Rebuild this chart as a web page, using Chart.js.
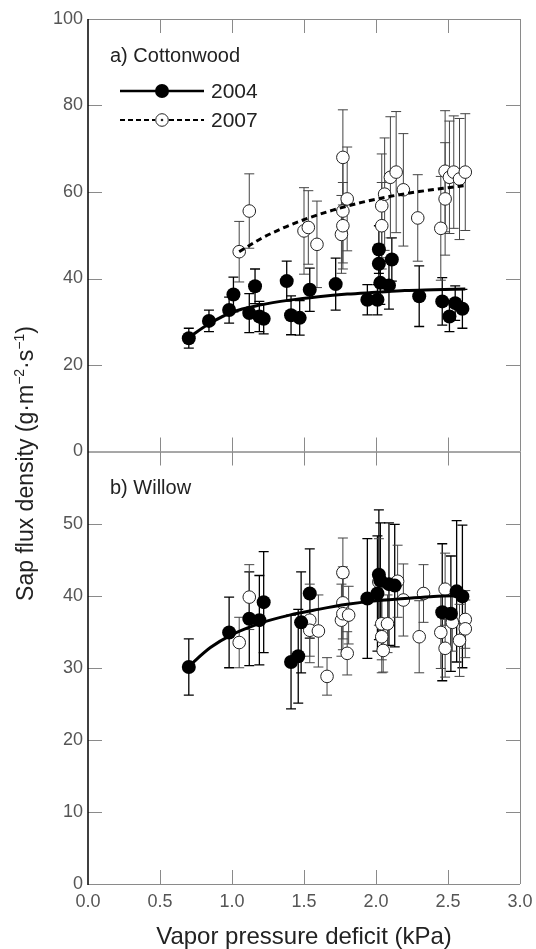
<!DOCTYPE html>
<html>
<head>
<meta charset="utf-8">
<style>
  html, body { margin: 0; padding: 0; background: #fff; }
  canvas { display: block; }
</style>
<script src="https://cdn.jsdelivr.net/npm/chart.js@4.4.1/dist/chart.umd.min.js"></script>
</head>
<body>
<canvas id="sapChart" width="536" height="949"></canvas>
<script>
// a) Cottonwood, 2004 (filled)
const cot04Vpd  = [0.70, 0.84, 0.98, 1.01, 1.12, 1.16, 1.19, 1.22, 1.38, 1.41, 1.47, 1.54, 1.72, 1.94, 2.01, 2.02, 2.02, 2.03, 2.09, 2.11, 2.30, 2.46, 2.51, 2.55, 2.60];
const cot04Flux = [26.2, 30.2, 32.7, 36.3, 32.0, 38.2, 31.2, 30.7, 39.4, 31.5, 30.9, 37.4, 38.7, 35.1, 35.1, 46.7, 43.4, 39.0, 38.4, 44.4, 35.9, 34.7, 31.2, 34.3, 33.0];
const cot04Err  = [2.3, 2.5, 3.0, 4.0, 4.5, 4.0, 3.5, 3.5, 4.6, 4.5, 4.0, 5.0, 6.0, 3.5, 3.5, 5.5, 4.5, 5.0, 5.5, 5.0, 7.0, 5.5, 3.5, 4.0, 4.5];

// a) Cottonwood, 2007 (open)
const cot07Vpd  = [1.05, 1.12, 1.50, 1.53, 1.59, 1.76, 1.77, 1.77, 1.77, 1.80, 2.04, 2.04, 2.06, 2.10, 2.14, 2.19, 2.29, 2.45, 2.48, 2.48, 2.51, 2.54, 2.58, 2.62];
const cot07Flux = [46.2, 55.6, 51.0, 51.8, 47.9, 50.2, 52.2, 55.6, 68.0, 58.4, 52.2, 56.8, 59.5, 63.4, 64.6, 60.5, 54.0, 51.6, 58.4, 64.8, 63.4, 64.6, 63.0, 64.6];
const cot07Err  = [7.0, 8.6, 10, 8.5, 10, 9, 10, 12, 11, 12, 10, 12, 13, 14, 14, 13, 10, 12, 13, 14, 13, 13, 14, 13.5];

// b) Willow, 2004 (filled)
const wil04Vpd  = [0.70, 0.98, 1.12, 1.19, 1.22, 1.41, 1.46, 1.48, 1.54, 1.94, 2.01, 2.02, 2.03, 2.09, 2.13, 2.46, 2.52, 2.56, 2.60];
const wil04Flux = [30.1, 34.9, 36.8, 36.6, 39.1, 30.8, 31.6, 36.3, 40.3, 39.6, 40.3, 42.9, 42.1, 41.6, 41.4, 37.7, 37.5, 40.6, 39.9];
const wil04Err  = [3.9, 4.9, 6.5, 6.2, 7.0, 6.5, 6.5, 7.0, 6.2, 8.3, 8.0, 9.0, 8.0, 8.5, 8.5, 9.5, 8.0, 9.8, 9.9];

// b) Willow, 2007 (open)
const wil07Vpd  = [1.05, 1.12, 1.54, 1.54, 1.60, 1.66, 1.76, 1.77, 1.77, 1.77, 1.80, 1.81, 2.02, 2.04, 2.04, 2.05, 2.08, 2.15, 2.19, 2.30, 2.33, 2.45, 2.48, 2.48, 2.53, 2.58, 2.62, 2.62];
const wil07Flux = [33.5, 39.8, 36.6, 35.2, 35.1, 28.8, 36.6, 43.2, 39.0, 37.5, 32.0, 37.3, 41.9, 36.1, 34.3, 32.4, 36.1, 42.0, 39.4, 34.3, 40.3, 34.9, 40.9, 32.7, 36.3, 33.8, 36.7, 35.4];
const wil07Err  = [3.5, 4.5, 5, 4.5, 5, 2.6, 5, 4.8, 5, 5, 3, 4, 6, 5, 5, 3, 4, 5, 5, 5, 4, 5, 5, 4, 4, 5, 4, 4];

// fitted curves
const cot04FitVpd  = [0.70, 0.85, 1.0, 1.2, 1.4, 1.6, 1.8, 2.0, 2.2, 2.4, 2.62];
const cot04FitFlux = [26.4, 29.7, 32.2, 33.9, 35.0, 35.8, 36.4, 36.8, 37.2, 37.4, 37.6];
const cot07FitVpd  = [1.05, 1.2, 1.35, 1.5, 1.7, 1.9, 2.1, 2.3, 2.5, 2.62];
const cot07FitFlux = [46.2, 49.2, 51.6, 53.6, 55.8, 57.6, 59.0, 60.1, 61.0, 61.5];
const wil04FitVpd  = [0.70, 0.85, 1.0, 1.2, 1.4, 1.6, 1.8, 2.0, 2.2, 2.4, 2.62];
const wil04FitFlux = [30.2, 32.8, 34.6, 36.2, 37.3, 38.1, 38.8, 39.3, 39.6, 39.9, 40.0];

const xTickStep = 0.5;
const topTickStep = 20;
const botTickStep = 10;
const legendYears = ['2004', '2007'];
const panelLabels = ['a) Cottonwood', 'b) Willow'];
const yTitleParts = [['Sap flux density (g\u00b7m', false], ['\u22122', true], ['\u00b7s', false], ['\u22121', true], [')', false]];

const FONT = "'Liberation Sans', Arial, Helvetica, sans-serif";
Chart.defaults.font.family = FONT;

const pts = (xs, ys) => xs.map((x, i) => ({ x: x, y: ys[i] }));

const fitLine = (xs, ys, axis, dash) => ({
  data: pts(xs, ys), yAxisID: axis, showLine: true, pointRadius: 0,
  borderColor: '#000', borderWidth: 3, borderDash: dash, cubicInterpolationMode: 'monotone'
});
const filled = (xs, ys, errs, axis) => ({
  data: pts(xs, ys), yAxisID: axis, errors: errs, errColor: '#000', errWidth: 1.3,
  pointRadius: 7, pointBackgroundColor: '#000', pointBorderColor: '#000', pointBorderWidth: 0
});
const open = (xs, ys, errs, axis) => ({
  data: pts(xs, ys), yAxisID: axis, errors: errs, errColor: '#444', errWidth: 1,
  pointRadius: 6.3, pointBackgroundColor: '#fff', pointBorderColor: '#222', pointBorderWidth: 1
});

// error bars under the markers, frame / ticks / labels on top
const figurePlugin = {
  id: 'figure',
  beforeDatasetsDraw(chart) {
    const ctx = chart.ctx;
    ctx.save();
    chart.data.datasets.forEach((ds, i) => {
      if (!ds.errors) return;
      const ys = chart.scales[ds.yAxisID];
      ctx.strokeStyle = ds.errColor;
      ctx.lineWidth = ds.errWidth;
      chart.getDatasetMeta(i).data.forEach((pt, j) => {
        const v = ds.data[j].y, e = ds.errors[j];
        const t = ys.getPixelForValue(v + e), b = ys.getPixelForValue(v - e);
        ctx.beginPath();
        ctx.moveTo(pt.x, t); ctx.lineTo(pt.x, b);
        ctx.moveTo(pt.x - 5, t); ctx.lineTo(pt.x + 5, t);
        ctx.moveTo(pt.x - 5, b); ctx.lineTo(pt.x + 5, b);
        ctx.stroke();
      });
    });
    ctx.restore();
  },
  afterDraw(chart) {
    const ctx = chart.ctx;
    const area = chart.chartArea;
    const xs = chart.scales.x;
    const panels = [chart.scales.yTop, chart.scales.yBot];
    const tl = 14;
    ctx.save();

    // frame
    ctx.lineWidth = 1;
    ctx.strokeStyle = '#8a8a8a';
    panels.forEach(p => {
      ctx.beginPath();
      ctx.moveTo(area.left, p.top + 0.5); ctx.lineTo(area.right, p.top + 0.5);
      ctx.moveTo(area.left, p.bottom + 0.5); ctx.lineTo(area.right, p.bottom + 0.5);
      ctx.moveTo(area.right + 0.5, p.top); ctx.lineTo(area.right + 0.5, p.bottom);
      ctx.stroke();
      // x ticks, inward
      xs.ticks.forEach(t => {
        if (t.value <= xs.min || t.value >= xs.max) return;
        const px = Math.round(xs.getPixelForValue(t.value)) + 0.5;
        ctx.beginPath();
        ctx.moveTo(px, p.top); ctx.lineTo(px, p.top + tl);
        ctx.moveTo(px, p.bottom); ctx.lineTo(px, p.bottom - tl);
        ctx.stroke();
      });
      // y ticks, inward on both sides
      p.ticks.forEach(t => {
        if (t.value <= p.min || t.value >= p.max) return;
        const py = Math.round(p.getPixelForValue(t.value)) + 0.5;
        ctx.beginPath();
        ctx.moveTo(area.left, py); ctx.lineTo(area.left + tl, py);
        ctx.moveTo(area.right, py); ctx.lineTo(area.right - tl, py);
        ctx.stroke();
      });
    });
    ctx.strokeStyle = '#000';
    ctx.lineWidth = 1.5;
    ctx.beginPath();
    ctx.moveTo(area.left, area.top); ctx.lineTo(area.left, area.bottom + 1);
    ctx.stroke();

    // panel labels
    ctx.fillStyle = '#222';
    ctx.font = '20px ' + FONT;
    ctx.textBaseline = 'middle';
    ctx.textAlign = 'left';
    ctx.fillText(panelLabels[0], area.left + 22, panels[0].top + 37);
    ctx.fillText(panelLabels[1], area.left + 22, panels[1].top + 37);

    // legend
    const lx0 = area.left + 32, lx1 = area.left + 116, lm = (lx0 + lx1) / 2;
    const ly = [panels[0].top + 72, panels[0].top + 101];
    ctx.strokeStyle = '#000';
    ctx.lineWidth = 2.5;
    ctx.setLineDash([]);
    ctx.beginPath(); ctx.moveTo(lx0, ly[0]); ctx.lineTo(lx1, ly[0]); ctx.stroke();
    ctx.fillStyle = '#000';
    ctx.beginPath(); ctx.arc(lm, ly[0], 7, 0, Math.PI * 2); ctx.fill();
    ctx.lineWidth = 2;
    ctx.setLineDash([5, 3]);
    ctx.beginPath(); ctx.moveTo(lx0, ly[1]); ctx.lineTo(lm - 7, ly[1]);
    ctx.moveTo(lm + 7, ly[1]); ctx.lineTo(lx1, ly[1]); ctx.stroke();
    ctx.setLineDash([]);
    ctx.lineWidth = 1;
    ctx.strokeStyle = '#222';
    ctx.beginPath(); ctx.arc(lm, ly[1], 6.3, 0, Math.PI * 2); ctx.stroke();
    ctx.fillStyle = '#222';
    ctx.beginPath(); ctx.arc(lm, ly[1], 1.3, 0, Math.PI * 2); ctx.fill();
    ctx.font = '21px ' + FONT;
    ctx.fillText(legendYears[0], lx1 + 7, ly[0] + 1);
    ctx.fillText(legendYears[1], lx1 + 7, ly[1] + 1);

    // y axis title, rotated, with superscripts
    const big = 23, small = 14;
    ctx.save();
    ctx.translate(33, (area.top + area.bottom) / 2 + 12);
    ctx.rotate(-Math.PI / 2);
    ctx.textBaseline = 'alphabetic';
    let total = 0;
    yTitleParts.forEach(([s, sup]) => {
      ctx.font = (sup ? small : big) + 'px ' + FONT;
      total += ctx.measureText(s).width;
    });
    let cx = -total / 2;
    ctx.fillStyle = '#222';
    ctx.textAlign = 'left';
    yTitleParts.forEach(([s, sup]) => {
      ctx.font = (sup ? small : big) + 'px ' + FONT;
      ctx.fillText(s, cx, sup ? -9 : 0);
      cx += ctx.measureText(s).width;
    });
    ctx.restore();

    ctx.restore();
  }
};

const tickFont = { size: 18, family: FONT };

new Chart(document.getElementById('sapChart'), {
  type: 'scatter',
  data: {
    datasets: [
      fitLine(cot04FitVpd, cot04FitFlux, 'yTop', []),
      fitLine(cot07FitVpd, cot07FitFlux, 'yTop', [6, 4]),
      fitLine(wil04FitVpd, wil04FitFlux, 'yBot', []),
      filled(cot04Vpd, cot04Flux, cot04Err, 'yTop'),
      filled(wil04Vpd, wil04Flux, wil04Err, 'yBot'),
      open(cot07Vpd, cot07Flux, cot07Err, 'yTop'),
      open(wil07Vpd, wil07Flux, wil07Err, 'yBot')
    ]
  },
  options: {
    responsive: false,
    animation: false,
    layout: { padding: { left: 48, right: 16, top: 19, bottom: 0 } },
    plugins: { legend: { display: false }, tooltip: { enabled: false } },
    scales: {
      x: {
        type: 'linear', min: 0, max: 3,
        grid: { display: false, drawTicks: false }, border: { display: false },
        ticks: { stepSize: xTickStep, autoSkip: false, maxRotation: 0, padding: 7, color: '#555', font: tickFont,
                 callback: v => v.toFixed(1) },
        title: { display: true, text: 'Vapor pressure deficit (kPa)', color: '#222',
                 font: { size: 24, family: FONT, lineHeight: 1 }, padding: { top: 4, bottom: 0 } },
        afterFit: s => { s.height = 65; s.paddingLeft = 0; s.paddingRight = 0; }
      },
      // stacked left axes: the later one is placed on top
      yBot: {
        type: 'linear', position: 'left', stack: 'panels', stackWeight: 1, min: 0, max: 60,
        grid: { display: false, drawTicks: false }, border: { display: false },
        ticks: { stepSize: botTickStep, padding: 5, color: '#555', font: tickFont,
                 callback: v => (v === 60 ? '' : v) },
        afterFit: s => { s.width = 40; }
      },
      yTop: {
        type: 'linear', position: 'left', stack: 'panels', stackWeight: 1, min: 0, max: 100,
        grid: { display: false, drawTicks: false }, border: { display: false },
        ticks: { stepSize: topTickStep, padding: 5, color: '#555', font: tickFont },
        afterFit: s => { s.width = 40; }
      }
    }
  },
  plugins: [figurePlugin]
});
</script>
</body>
</html>
